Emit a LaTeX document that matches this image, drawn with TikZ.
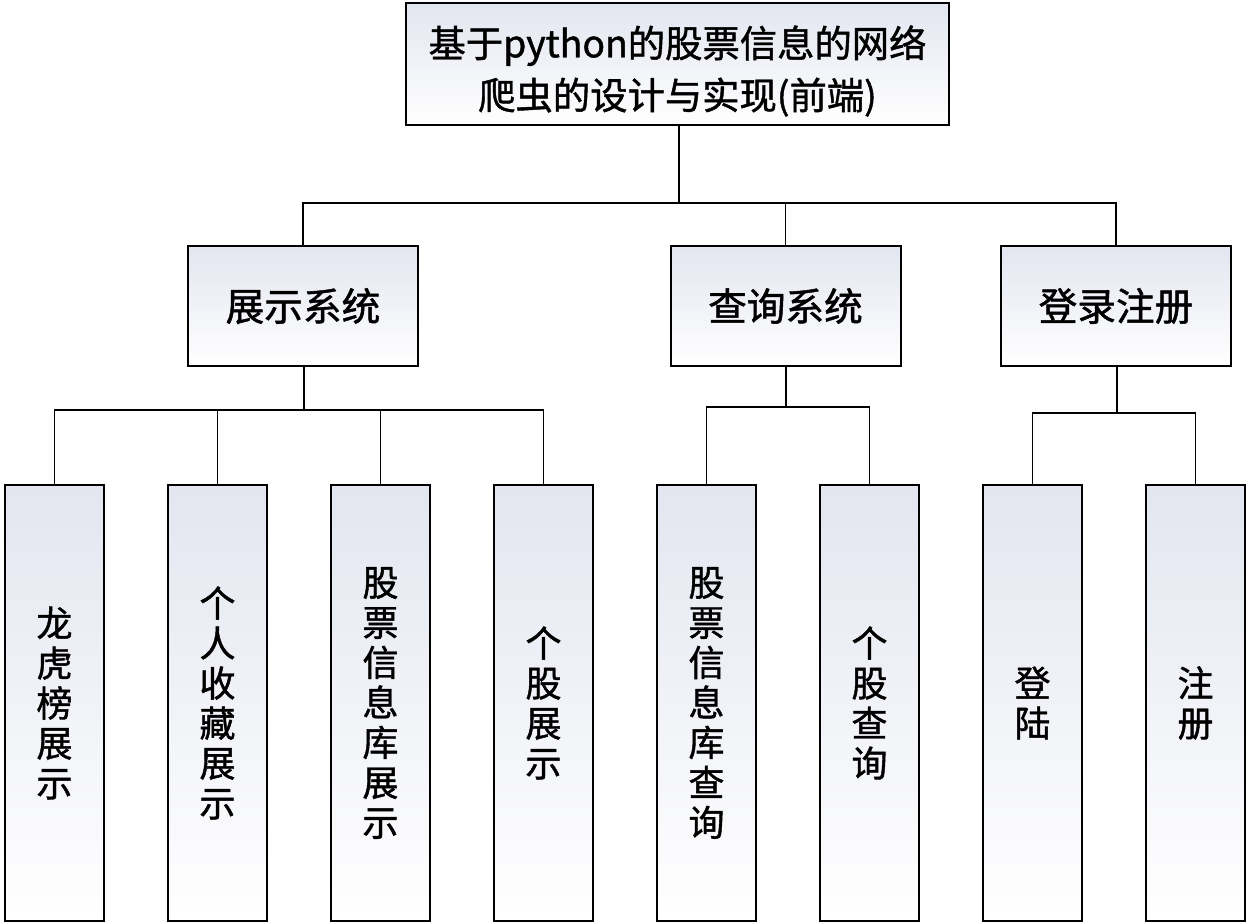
\documentclass[tikz,border=0pt]{standalone}
\usepackage{fontspec}
\setmainfont{Noto Sans CJK SC}
\newfontfamily\boxfont[FakeBold=1.2]{Noto Sans CJK SC}
\usepackage{tikz}
\usetikzlibrary{positioning}
\definecolor{boxtop}{HTML}{E3E6F0}

\begin{document}
\begin{tikzpicture}[x=0.75pt,y=-0.75pt,
  box/.style={draw=black, line width=1.5pt, top color=boxtop, bottom color=white,
    inner sep=0pt, align=center},
  leaf/.style={box, minimum width=74.25pt, minimum height=327pt,
    font=\boxfont\fontsize{27}{30}\selectfont},
  sys/.style={box, minimum width=172.5pt, minimum height=90pt,
    font=\boxfont\fontsize{29}{32}\selectfont},
  link/.style={line width=1pt}]
  \useasboundingbox (0,0) rectangle (1249,924);
  % 顶层
  \node[box, minimum width=407pt, minimum height=91.5pt] (root) at (677.5,64) {};
  \node[align=center, inner sep=0pt, font=\boxfont\fontsize{28}{39}\selectfont]
    (title) at (677.5,71) {基于python的股票信息的网络\\爬虫的设计与实现(前端)};
  % 子系统
  \node[sys] (show) at (303,306) {展示系统};
  \node[sys] (query) at (785.5,306) {查询系统};
  \node[sys] (login) at (1116,306) {登录注册};
  % 功能模块
  \node[leaf] (lhb) at (54.5,703) {龙\\虎\\榜\\展\\示};
  \node[leaf] (fav) at (217.5,703) {个\\人\\收\\藏\\展\\示};
  \node[leaf] (lib) at (380.5,703) {股\\票\\信\\息\\库\\展\\示};
  \node[leaf] (one) at (543.5,703) {个\\股\\展\\示};
  \node[leaf] (libq) at (706.5,703) {股\\票\\信\\息\\库\\查\\询};
  \node[leaf] (oneq) at (869.5,703) {个\\股\\查\\询};
  \node[leaf] (signin) at (1032.5,703) {登\\陆};
  \node[leaf] (signup) at (1195.5,703) {注\\册};
  % 连线
  \coordinate (b0) at (679,203);
  \coordinate (b1) at (304,410);
  \coordinate (b2) at (786,407);
  \coordinate (b3) at (1117,413);
  \draw[link] (root.south -| b0) -- (b0);
  \foreach \t in {show,query,login}
    \draw[link] (b0) -| (\t.north);
  \draw[link] (show.south -| b1) -- (b1);
  \foreach \t in {lhb,fav,lib,one}
    \draw[link] (b1) -| (\t.north);
  \draw[link] (query.south -| b2) -- (b2);
  \foreach \t in {libq,oneq}
    \draw[link] (b2) -| (\t.north);
  \draw[link] (login.south -| b3) -- (b3);
  \foreach \t in {signin,signup}
    \draw[link] (b3) -| (\t.north);
\end{tikzpicture}
\end{document}
